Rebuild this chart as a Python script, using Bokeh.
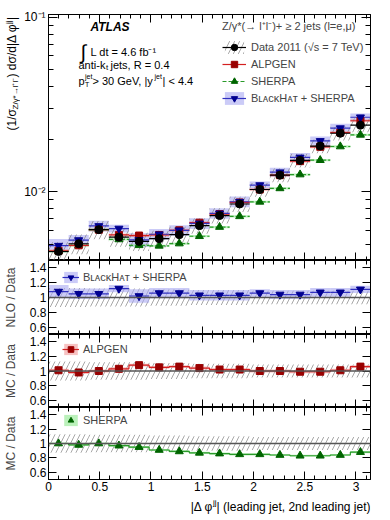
import numpy as np
from bokeh.plotting import figure
from bokeh.models import (ColumnDataSource, FixedTicker, SingleIntervalTicker, CustomJSTickFormatter,
                          LinearAxis, LogAxis, Label, Legend, LegendItem, Span, Range1d)
from bokeh.layouts import column, row
from bokeh.embed import file_html
from bokeh.resources import INLINE

FONT = "Liberation Sans"

# ---------------- data ----------------
bin_edges = [0.0, 0.196, 0.393, 0.589, 0.785, 0.982, 1.178, 1.374, 1.571,
             1.767, 1.963, 2.160, 2.356, 2.553, 2.749, 2.945, 3.142]
data_xsec = [4.56e-3, 5.05e-3, 6.08e-3, 5.51e-3, 5.21e-3, 5.40e-3, 5.69e-3, 6.41e-3,
             7.32e-3, 8.53e-3, 1.032e-2, 1.247e-2, 1.515e-2, 1.83e-2, 2.166e-2, 2.41e-2]
data_syst = [0.13, 0.13, 0.12, 0.12, 0.12, 0.11, 0.11, 0.10,
             0.10, 0.10, 0.09, 0.09, 0.09, 0.09, 0.09, 0.09]
alpgen_ratio = [1.01, 0.98, 1.00, 1.03, 1.08, 1.05, 1.06, 1.04,
                1.02, 1.02, 1.00, 1.00, 0.99, 0.99, 1.01, 1.06]
alpgen_stat = [0.02, 0.02, 0.02, 0.02, 0.02, 0.02, 0.02, 0.02,
               0.02, 0.02, 0.02, 0.02, 0.02, 0.02, 0.02, 0.02]
sherpa_ratio = [1.00, 0.98, 1.00, 0.97, 0.95, 0.91, 0.89, 0.87,
                0.86, 0.85, 0.85, 0.84, 0.83, 0.83, 0.84, 0.88]
sherpa_stat = [0.015, 0.015, 0.015, 0.015, 0.015, 0.015, 0.015, 0.015,
               0.015, 0.015, 0.015, 0.015, 0.015, 0.015, 0.015, 0.015]
blackhat_ratio = [1.08, 1.05, 1.05, 1.12, 1.02, 1.06, 1.06, 1.03,
                  1.03, 1.03, 1.06, 1.04, 1.04, 1.07, 1.07, 1.11]
blackhat_unc = [0.09, 0.07, 0.07, 0.05, 0.09, 0.07, 0.07, 0.07,
                0.07, 0.07, 0.05, 0.06, 0.06, 0.06, 0.06, 0.05]

main_y_ticks = [0.01, 0.1]
main_y_minor = [0.005, 0.006, 0.007, 0.008, 0.009,
                0.02, 0.03, 0.04, 0.05, 0.06, 0.07, 0.08, 0.09]
ratio_y_ticks = [0.6, 0.8, 1.0, 1.2, 1.4]

# ---------------- derived columns ----------------
lo = np.array(bin_edges[:-1]); hi = np.array(bin_edges[1:]); xc = (lo + hi) / 2
d = np.array(data_xsec); ds = np.array(data_syst)
ar = np.array(alpgen_ratio); sr = np.array(sherpa_ratio); br = np.array(blackhat_ratio)
au = np.array(alpgen_stat); su = np.array(sherpa_stat); bu = np.array(blackhat_unc)

src = ColumnDataSource(dict(
    lo=lo, hi=hi, x=xc,
    d=d, d_lo=d * (1 - ds), d_hi=d * (1 + ds),
    r_lo=1 - ds, r_hi=1 + ds,
    alp=d * ar, alp_lo=d * ar * (1 - au), alp_hi=d * ar * (1 + au),
    sh=d * sr, sh_lo=d * sr * (1 - su), sh_hi=d * sr * (1 + su),
    bh=d * br, bh_lo=d * br * (1 - bu), bh_hi=d * br * (1 + bu),
    ar=ar, ar_lo=ar - au, ar_hi=ar + au,
    sr=sr, sr_lo=sr - su, sr_hi=sr + su,
    br=br, br_lo=br - bu, br_hi=br + bu,
))

ALP_M, ALP_L, ALP_B = "#990000", "#d42020", "#f29a9a"
SH_M, SH_L, SH_B = "#006400", "#2a9a2a", "#8ee88e"
BH_M, BH_L, BH_B = "#000090", "#3030c0", "#a8a8f2"
HATCH = "#858585"

xr = Range1d(0, 3.1416)
num_code = "return Number(tick.toFixed(2)).toString();"


def x_ticker():
    return SingleIntervalTicker(interval=0.5, num_minor_ticks=5)


def inward(ax, major=8, minor=4):
    ax.major_tick_in = major
    ax.major_tick_out = 0
    ax.minor_tick_in = minor
    ax.minor_tick_out = 0
    ax.axis_line_color = "black"
    ax.major_tick_line_color = "black"
    ax.minor_tick_line_color = "black"
    ax.major_label_text_font = FONT
    ax.major_label_text_font_size = "12px"
    ax.major_label_text_color = "black"


def hide_labels(ax):
    ax.formatter = CustomJSTickFormatter(code="return '';")
    ax.major_label_text_font_size = "1px"
    ax.major_label_standoff = 0


def base_fig(width, height, left, y_range, y_type="linear", top=0, bottom=0):
    p = figure(width=width, height=height, x_range=xr, y_range=y_range,
               y_axis_type=y_type, output_backend="svg", toolbar_location=None,
               min_border_left=left, min_border_right=10, min_border_top=top,
               min_border_bottom=bottom, background_fill_color="white",
               border_fill_color="white", outline_line_color="black")
    p.grid.visible = False
    return p


def strip(width, height):
    s = figure(width=width, height=height, x_range=Range1d(0, 1), y_range=Range1d(0, 1),
               x_axis_location=None, y_axis_location=None, output_backend="svg",
               toolbar_location=None, min_border=0, outline_line_color=None,
               background_fill_color="white", border_fill_color="white")
    s.grid.visible = False
    return s


def lab(p, x, y, text, size=11, align="left", baseline="middle", angle=0.0, style="normal"):
    p.add_layout(Label(x=x, y=y, x_units="screen", y_units="screen", text=text,
                       text_font=FONT, text_font_size=f"{size}px", text_align=align,
                       text_baseline=baseline, angle=angle, text_font_style=style,
                       text_color="black"))


def x_axes(p, show_labels=False):
    b = p.xaxis[0]
    b.ticker = x_ticker()
    inward(b)
    if show_labels:
        b.formatter = CustomJSTickFormatter(code=num_code)
        b.major_label_standoff = 2
    else:
        hide_labels(b)
    a = LinearAxis(ticker=x_ticker())
    inward(a)
    hide_labels(a)
    p.add_layout(a, "above")


# ---------------- main panel ----------------
p = base_fig(360, 260, 28, Range1d(4.05e-3, 0.1036), y_type="log", top=14)
x_axes(p)
ly = p.yaxis[0]
ly.ticker = FixedTicker(ticks=main_y_ticks, minor_ticks=main_y_minor)
ly.formatter = CustomJSTickFormatter(code="return tick < 0.05 ? '10\u207b\u00b2' : '10\u207b\u00b9';")
inward(ly, 9, 5)
ly.major_label_standoff = 3
ry = LogAxis(ticker=FixedTicker(ticks=main_y_ticks, minor_ticks=main_y_minor))
inward(ry, 9, 5)
hide_labels(ry)
p.add_layout(ry, "right")

r_bhband = p.quad(left="lo", right="hi", bottom="bh_lo", top="bh_hi", source=src,
                  fill_color=BH_B, fill_alpha=0.6, line_alpha=0)
p.quad(left="lo", right="hi", bottom="alp_lo", top="alp_hi", source=src,
       fill_color=ALP_B, fill_alpha=0.6, line_alpha=0)
p.quad(left="lo", right="hi", bottom="sh_lo", top="sh_hi", source=src,
       fill_color=SH_B, fill_alpha=0.6, line_alpha=0)
r_hatch = p.quad(left="lo", right="hi", bottom="d_lo", top="d_hi", source=src,
                 fill_color=None, line_alpha=0, hatch_pattern="/", hatch_color=HATCH,
                 hatch_scale=10, hatch_weight=0.8, hatch_alpha=0.9)
r_shseg = p.segment(x0="lo", x1="hi", y0="sh", y1="sh", source=src, line_color=SH_L,
                    line_width=1.2, line_dash="4 2")
r_alpseg = p.segment(x0="lo", x1="hi", y0="alp", y1="alp", source=src, line_color=ALP_L, line_width=1.2)
r_bhseg = p.segment(x0="lo", x1="hi", y0="bh", y1="bh", source=src, line_color=BH_L, line_width=1.2)
r_dseg = p.segment(x0="lo", x1="hi", y0="d", y1="d", source=src, line_color="black", line_width=1.2)
r_shpt = p.scatter(x="x", y="sh", source=src, marker="triangle", size=8, color=SH_M)
r_alppt = p.scatter(x="x", y="alp", source=src, marker="square", size=7, color=ALP_M)
r_bhpt = p.scatter(x="x", y="bh", source=src, marker="inverted_triangle", size=8, color=BH_M)
r_dpt = p.scatter(x="x", y="d", source=src, marker="circle", size=8, color="black")

leg = Legend(items=[
    LegendItem(label="Data 2011 (\u221as = 7 TeV)", renderers=[r_hatch, r_dseg, r_dpt]),
    LegendItem(label="ALPGEN", renderers=[r_alpseg, r_alppt]),
    LegendItem(label="SHERPA", renderers=[r_shseg, r_shpt]),
    LegendItem(label="B\u029f\u1d00\u1d04\u1d0bH\u1d00\u1d1b + SHERPA",
               renderers=[r_bhband, r_bhseg, r_bhpt]),
], location=(174, 154), title="Z/\u03b3*(\u2192 l\u207al\u207b)+ \u2265 2 jets (l=e,\u03bc)",
    background_fill_alpha=0, border_line_alpha=0, padding=0, margin=0, spacing=1,
    glyph_width=24, glyph_height=16, label_height=16, label_standoff=5,
    label_text_font=FONT, label_text_font_size="11px",
    title_text_font=FONT, title_text_font_size="11px", title_text_font_style="normal",
    title_standoff=6)
p.add_layout(leg)

# ATLAS block
lab(p, 42, 234, "ATLAS", size=12, style="bold italic")
lab(p, 32, 209, "\u222b", size=20)
lab(p, 42, 209, "L dt = 4.6 fb\u207b\u00b9", size=11)
lab(p, 30, 196, "anti-k", size=11)
lab(p, 57.5, 193.5, "t", size=8)
lab(p, 62, 196, " jets, R = 0.4", size=11)
lab(p, 30, 180, "p", size=11)
lab(p, 36.5, 184.5, "jet", size=7)
lab(p, 36.5, 176.5, "T", size=7)
lab(p, 44, 180, " > 30 GeV, |y", size=11)
lab(p, 106, 184.5, "jet", size=7)
lab(p, 114, 180, "| < 4.4", size=11)

# main y-axis title, in its own strip left of the main panel (frame aligned with main frame)
yt = strip(20, 260)
A = np.pi / 2
lab(yt, 11.5, 130, "(1/\u03c3", size=12, angle=A)
lab(yt, 15, 151, "Z/\u03b3*\u2192l\u207al\u207b", size=8, angle=A)
lab(yt, 11.5, 183, ") d\u03c3/d|\u0394 \u03c6", size=12, angle=A)
lab(yt, 8, 236.5, "jj", size=8, angle=A)
lab(yt, 11.5, 240.5, "|", size=12, angle=A)


# ---------------- ratio panels ----------------
def ratio_fig(title, height, bottom=0):
    q = base_fig(380, height, 48, Range1d(0.5, 1.5), bottom=bottom)
    x_axes(q, show_labels=(bottom > 0))
    l = q.yaxis[0]
    l.ticker = FixedTicker(ticks=ratio_y_ticks)
    l.formatter = CustomJSTickFormatter(code=num_code)
    inward(l, 8, 4)
    l.major_label_standoff = 2
    l.axis_label = title
    l.axis_label_text_font = FONT
    l.axis_label_text_font_size = "12px"
    l.axis_label_text_font_style = "normal"
    l.axis_label_standoff = 9
    r = LinearAxis(ticker=FixedTicker(ticks=ratio_y_ticks))
    inward(r, 8, 4)
    hide_labels(r)
    q.add_layout(r, "right")
    return q


def ratio_hatch(q):
    q.quad(left="lo", right="hi", bottom="r_lo", top="r_hi", source=src, fill_color=None,
           line_alpha=0, hatch_pattern="/", hatch_color=HATCH, hatch_scale=10,
           hatch_weight=0.8, hatch_alpha=0.9)
    q.add_layout(Span(location=1, dimension="width", line_color="#555555", line_width=1.5))


def small_legend(q, label, renderers, y):
    q.add_layout(Legend(items=[LegendItem(label=label, renderers=renderers)], location=(14, y),
                        background_fill_alpha=0, border_line_alpha=0, padding=0, margin=0,
                        glyph_width=17, glyph_height=14, label_height=14, label_standoff=4,
                        label_text_font=FONT, label_text_font_size="11px"))


q1 = ratio_fig("NLO / Data", 74)
ratio_hatch(q1)
b1 = q1.quad(left="lo", right="hi", bottom="br_lo", top="br_hi", source=src,
             fill_color=BH_B, fill_alpha=0.6, line_alpha=0)
s1 = q1.segment(x0="lo", x1="hi", y0="br", y1="br", source=src, line_color=BH_L, line_width=1.2)
m1 = q1.scatter(x="x", y="br", source=src, marker="inverted_triangle", size=8, color=BH_M)
small_legend(q1, "B\u029f\u1d00\u1d04\u1d0bH\u1d00\u1d1b + SHERPA", [b1, s1, m1], 50)

q2 = ratio_fig("MC / Data", 73)
ratio_hatch(q2)
b2 = q2.quad(left="lo", right="hi", bottom="ar_lo", top="ar_hi", source=src,
             fill_color=ALP_B, fill_alpha=0.6, line_alpha=0)
s2 = q2.step(x=bin_edges, y=alpgen_ratio + [alpgen_ratio[-1]], mode="after",
             line_color=ALP_L, line_width=1.2)
m2 = q2.scatter(x="x", y="ar", source=src, marker="square", size=7, color=ALP_M)
small_legend(q2, "ALPGEN", [b2, s2, m2], 51)

q3 = ratio_fig("MC / Data", 89, bottom=17)
ratio_hatch(q3)
b3 = q3.quad(left="lo", right="hi", bottom="sr_lo", top="sr_hi", source=src,
             fill_color=SH_B, fill_alpha=0.6, line_alpha=0)
s3 = q3.step(x=bin_edges, y=sherpa_ratio + [sherpa_ratio[-1]], mode="after",
             line_color=SH_L, line_width=1.2)
m3 = q3.scatter(x="x", y="sr", source=src, marker="triangle", size=8, color=SH_M)
small_legend(q3, "SHERPA", [b3, m3], 52)

# x-axis title strip (its frame lines up with the panels above: x 0..322)
xt = strip(380, 20)
lab(xt, 322, 10, "| (leading jet, 2nd leading jet)", size=12, align="right")
lab(xt, 168, 14, "jj", size=8, align="right")
lab(xt, 164.5, 10, "|\u0394 \u03c6", size=12, align="right")

layout = column(row(yt, p, spacing=0), q1, q2, q3, xt, spacing=0)
open("out.html", "w").write(file_html(layout, INLINE))
